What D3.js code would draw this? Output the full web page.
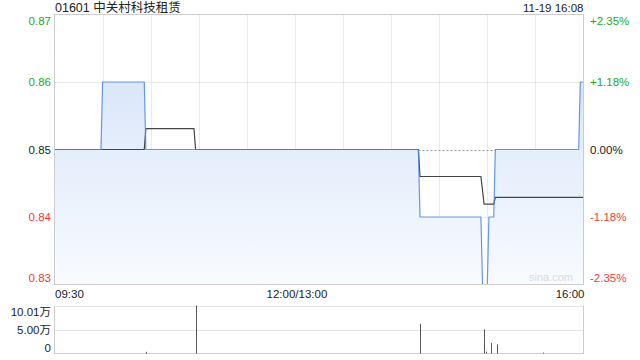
<!DOCTYPE html>
<html><head><meta charset="utf-8">
<script src="https://cdn.jsdelivr.net/npm/d3@7"></script>
<style>
html,body{margin:0;padding:0;background:#fff;}
text{font-family:"Liberation Sans",Arial,"Noto Sans CJK SC",sans-serif;}
</style></head>
<body><svg id="c" width="640" height="360"></svg>
<script>
const title = "01601 中关村科技租赁";
const stamp = "11-19 16:08";
const prevClose = 0.85;
const priceTicks = [0.87, 0.86, 0.85, 0.84, 0.83];
const pctTicks = ["+2.35%", "+1.18%", "0.00%", "-1.18%", "-2.35%"];
const timeLabels = ["09:30", "12:00/13:00", "16:00"];
const volTicks = [10.01, 5.00, 0];
const volTickLabels = ["10.01万", "5.00万", "0"];

const priceTimes = ["09:30","09:59","10:00","10:26","10:27","14:17","14:18","14:56","14:57","15:00","15:01","15:04","15:05","15:57","15:58","16:00"];
const priceVals  = [0.85,0.85,0.86,0.86,0.85,0.85,0.84,0.84,0.83,0.83,0.84,0.84,0.85,0.85,0.86,0.86];

const avgTimes = ["09:30","10:26","10:27","10:57","10:58","14:17","14:18","14:56","14:58","15:04","15:05","16:00"];
const avgVals  = [0.85,0.85,0.8531,0.8531,0.85,0.85,0.846,0.846,0.8419,0.8419,0.8429,0.8429];

const volTimes = ["10:27","10:58","14:18","14:58","14:59","15:02","15:06","15:35"];
const volVals  = [0.35,10.01,6.2,5.05,0.4,2.2,1.9,0.2];

function idx(t){
  const [h,m] = t.split(":").map(Number);
  const mins = h*60+m;
  if (mins <= 12*60) return mins - (9*60+30);
  return 150 + mins - 13*60;
}

const svg = d3.select("#c");
const L = 54.5, R = 583.5, T = 14.5, B = 284.5;
const VT = 305.5, VB = 353.5;
const x = d3.scaleLinear().domain([0, 330]).range([L, R]);
const y = d3.scaleLinear().domain([0.83, 0.87]).range([B, T]);
const yv = d3.scaleLinear().domain([0, 10.01]).range([VB, VT]);

const green = "#1fa81f", red = "#f03a3a", dark = "#222";
function col(v){ return v > prevClose ? green : (v < prevClose ? red : dark); }

const defs = svg.append("defs");
const g = defs.append("linearGradient").attr("id","fillg")
  .attr("gradientUnits","userSpaceOnUse").attr("x1",0).attr("x2",0).attr("y1",T).attr("y2",B);
g.append("stop").attr("offset","0%").attr("stop-color","#d1e0f8");
g.append("stop").attr("offset","100%").attr("stop-color","#f8fbff");

svg.append("text").attr("x", 55).attr("y", 12).attr("font-size", 12.5).attr("fill", "#222").text(title);
svg.append("text").attr("x", R).attr("y", 12).attr("text-anchor","end").attr("font-size", 11.5).attr("fill", "#222").text(stamp);

for (let k = 1; k < 11; k++) {
  const xx = Math.round(x(k*30)) + 0.5;
  svg.append("line").attr("x1", xx).attr("x2", xx).attr("y1", T).attr("y2", B)
    .attr("stroke", "#d4d4d4").attr("stroke-dasharray", "1,1");
}
priceTicks.slice(1, -1).forEach(v => {
  svg.append("line").attr("x1", L).attr("x2", R).attr("y1", Math.round(y(v))+0.5).attr("y2", Math.round(y(v))+0.5)
    .attr("stroke", v === prevClose ? "#999" : "#d4d4d4").attr("stroke-dasharray", v === prevClose ? "2,2" : "1,1");
});

const pts = priceTimes.map((t,i) => ({i: idx(t), v: priceVals[i]}));
const apts = avgTimes.map((t,i) => ({i: idx(t), v: avgVals[i]}));

svg.append("path").datum(pts)
  .attr("d", d3.area().x(d => x(d.i)).y0(B).y1(d => y(d.v)))
  .attr("fill", "url(#fillg)");

svg.append("text").attr("x", 573).attr("y", 281).attr("text-anchor","end").attr("font-size", 11).attr("fill", "#dcdcdc").text("sina.com");

svg.append("path").datum(apts)
  .attr("d", d3.line().x(d => x(d.i)).y(d => y(d.v)))
  .attr("fill", "none").attr("stroke", "#444").attr("stroke-width", 1.2);

svg.append("path").datum(pts)
  .attr("d", d3.line().x(d => x(d.i)).y(d => y(d.v)))
  .attr("fill", "none").attr("stroke", "#4a87e4").attr("stroke-width", 1.2).attr("stroke-opacity", 0.85);

svg.append("rect").attr("x", L).attr("y", T).attr("width", R-L).attr("height", B-T)
  .attr("fill", "none").attr("stroke", "#cccccc");

priceTicks.forEach((v, i) => {
  let yy = y(v) + 4;
  if (i === 0) yy = y(v) + 10;
  if (i === priceTicks.length-1) yy = y(v) - 3;
  svg.append("text").attr("x", 51).attr("y", yy).attr("text-anchor", "end")
    .attr("font-size", 11.5).attr("fill", col(v)).text(v.toFixed(2));
  svg.append("text").attr("x", 590).attr("y", yy).attr("text-anchor", "start")
    .attr("font-size", 11.5).attr("fill", col(v)).text(pctTicks[i]);
});

svg.append("text").attr("x", L+0.5).attr("y", 298).attr("font-size", 11.5).attr("fill", "#222").text(timeLabels[0]);
svg.append("text").attr("x", x(150)+2).attr("y", 298).attr("text-anchor","middle").attr("font-size", 11.5).attr("fill", "#222").text(timeLabels[1]);
svg.append("text").attr("x", R+1).attr("y", 298).attr("text-anchor","end").attr("font-size", 11.5).attr("fill", "#222").text(timeLabels[2]);

[10.01, 5.00].forEach(v => {
  svg.append("line").attr("x1", L).attr("x2", R).attr("y1", Math.round(yv(v))+0.5).attr("y2", Math.round(yv(v))+0.5)
    .attr("stroke", "#c8c8c8").attr("stroke-dasharray", "1,1");
});
svg.append("line").attr("x1", L).attr("x2", R).attr("y1", VB).attr("y2", VB)
  .attr("stroke", "#999").attr("stroke-dasharray", "1,1");
svg.append("line").attr("x1", L).attr("x2", L).attr("y1", VT).attr("y2", VB).attr("stroke", "#ccc");
svg.append("line").attr("x1", R).attr("x2", R).attr("y1", VT).attr("y2", VB).attr("stroke", "#ccc");

svg.selectAll(".vb").data(volTimes.map((t,i) => ({i: idx(t), v: volVals[i]})))
  .enter().append("line")
  .attr("x1", d => Math.round(x(d.i))+0.5).attr("x2", d => Math.round(x(d.i))+0.5)
  .attr("y1", VB).attr("y2", d => yv(d.v))
  .attr("stroke", "#555").attr("stroke-width", 1);

volTicks.forEach((v, i) => {
  let yy = yv(v) + 4;
  if (i === 0) yy = yv(v) + 10;
  if (i === volTicks.length-1) yy = yv(v) - 2;
  svg.append("text").attr("x", 51).attr("y", yy).attr("text-anchor", "end")
    .attr("font-size", 11.5).attr("fill", "#222").text(volTickLabels[i]);
});
</script></body></html>
